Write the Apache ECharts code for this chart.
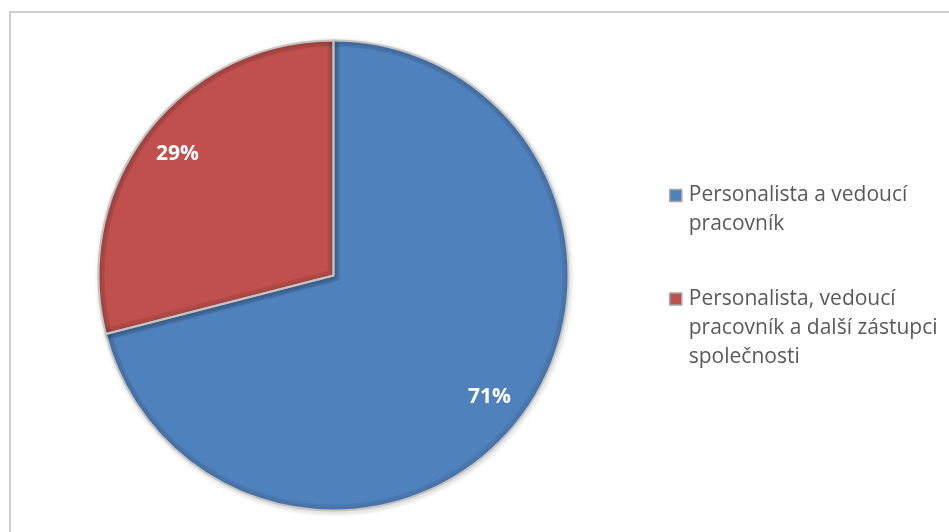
<!DOCTYPE html>
<html>
<head>
<meta charset="utf-8">
<script src="https://cdn.jsdelivr.net/npm/echarts@6/dist/echarts.min.js"></script>
<style>
  html, body { margin: 0; padding: 0; background: #ffffff; }
  #chart { width: 949px; height: 532px; }
</style>
</head>
<body>
<div id="chart"></div>
<script>
// Categories and their shares (percent)
const categories = [
  'Personalista a vedoucí pracovník',
  'Personalista, vedoucí pracovník a další zástupci společnosti'
];
const shares = [71, 29];

// Legend text, broken into lines
const legendLines = [
  ['Personalista a vedoucí', 'pracovník'],
  ['Personalista, vedoucí', 'pracovník a další zástupci', 'společnosti']
];

const sliceColors = ['#4f81bd', '#c0504d'];

// Pie geometry
const CX = 333.5, CY = 275.5, R = 235, BAND = 6;
const SHADE = 'rgba(0,0,0,0.075)';
const FONT = '"Open Sans", "Noto Sans", sans-serif';

const chart = echarts.init(document.getElementById('chart'), null, { renderer: 'canvas' });

const base = {
  type: 'pie',
  center: [CX, CY],
  startAngle: 90,
  clockwise: true,
  animation: false,
  label: { show: false },
  labelLine: { show: false },
  emphasis: { disabled: true }
};

// main coloured slices
const mainData = categories.map((name, i) => ({
  name, value: shares[i], itemStyle: { color: sliceColors[i] }
}));
// darker rim along the outer edge
const rimData = categories.map((name, i) => ({
  name, value: shares[i], itemStyle: { color: SHADE }
}));
// darker strip on both sides of the slice boundaries (stroke of the smaller slice)
const edgeData = categories.map((name, i) => ({
  name, value: shares[i],
  itemStyle: i === 1
    ? { color: 'rgba(0,0,0,0)', borderColor: SHADE, borderWidth: BAND * 2, borderJoin: 'miter' }
    : { color: 'rgba(0,0,0,0)', borderWidth: 0 }
}));
// light grey outline of every slice
const outlineData = categories.map((name, i) => ({
  name, value: shares[i],
  itemStyle: {
    color: 'rgba(0,0,0,0)', borderColor: '#c4c4c4', borderWidth: 2,
    shadowBlur: 4, shadowColor: 'rgba(0,0,0,0.3)', shadowOffsetX: 1, shadowOffsetY: 1.5
  }
}));
// percentage labels
const labelData = categories.map((name, i) => ({
  name, value: shares[i], itemStyle: { color: 'rgba(0,0,0,0)', borderWidth: 0 }
}));

const option = {
  animation: false,
  backgroundColor: '#ffffff',
  graphic: {
    elements: [
      {
        type: 'rect', z: 1, silent: true,
        shape: { x: 10, y: 12, width: 1000, height: 600 },
        style: { fill: 'none', stroke: '#cfcfcf', lineWidth: 2 }
      },
      {
        type: 'ring', z: 10, silent: true,
        shape: { cx: CX, cy: CY, r0: R + 0.5, r: R + BAND * 2 + 3 },
        style: { fill: '#ffffff' }
      }
    ]
  },
  legend: {
    orient: 'vertical',
    left: 669,
    top: 152,
    padding: 0,
    itemGap: -12.5,
    itemWidth: 12,
    itemHeight: 12,
    icon: 'rect',
    selectedMode: false,
    itemStyle: { borderColor: '#a6a6a6', borderWidth: 1.5 },
    textStyle: {
      color: '#595959',
      fontFamily: FONT,
      fontSize: 21,
      lineHeight: 29,
      padding: [0, 0, 0, 2]
    },
    data: categories,
    formatter: function (name) {
      const i = categories.indexOf(name);
      const lines = legendLines[i];
      const pad = new Array(lines.length - 1).fill('').join('\n');
      return (lines.length > 1 ? pad + '\n' : '') + lines.join('\n');
    }
  },
  series: [
    Object.assign({}, base, { name: 'main', z: 2, radius: [0, R], data: mainData }),
    Object.assign({}, base, { name: 'rim', z: 3, silent: true, radius: [R - BAND, R], data: rimData }),
    Object.assign({}, base, { name: 'edge', z: 4, silent: true, radius: [0, R + BAND], data: edgeData }),
    Object.assign({}, base, { name: 'outline', z: 20, silent: true, radius: [0, R], data: outlineData }),
    Object.assign({}, base, {
      name: 'labels', z: 30, silent: true, radius: [154, R], data: labelData,
      label: {
        show: true,
        position: 'inside',
        formatter: '{c}%',
        color: '#ffffff',
        fontFamily: FONT,
        fontWeight: 'bold',
        fontSize: 21
      }
    })
  ]
};

chart.setOption(option);
</script>
</body>
</html>
